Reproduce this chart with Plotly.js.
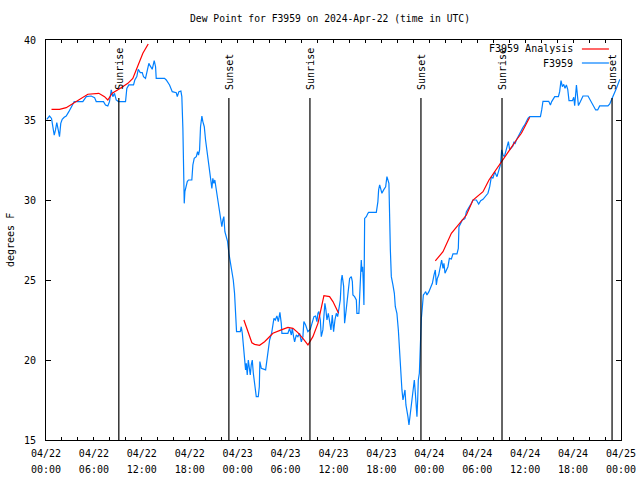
<!DOCTYPE html>
<html>
<head>
<meta charset="utf-8">
<script src="https://cdn.plot.ly/plotly-3.0.1.min.js"></script>
<style>html,body{margin:0;padding:0;background:#fff}#chart{width:640px;height:480px}</style>
</head>
<body>
<div id="chart"></div>
<script>
// Hours since 2024-04-22 00:00 UTC
const obsHours = [
0.10,0.44,0.69,0.85,1.03,1.19,1.35,1.53,1.69,1.85,
2.03,2.28,2.53,2.86,3.19,3.53,4.61,5.04,5.66,6.08,
6.29,7.20,7.45,7.74,7.95,8.17,8.37,8.58,8.79,9.08,
9.96,10.12,10.37,10.96,11.12,11.37,11.55,11.80,12.05,12.21,
12.46,12.63,12.88,13.05,13.30,13.55,13.72,13.80,14.84,15.06,
15.47,15.81,16.31,16.44,16.64,16.89,17.01,17.14,17.22,17.31,
17.39,17.56,17.69,17.85,18.26,18.39,18.56,18.82,18.98,19.10,
19.23,19.35,19.52,19.64,19.82,19.98,20.27,20.48,20.64,20.77,
20.89,21.02,21.14,21.32,21.48,21.61,21.73,21.90,22.02,22.15,
22.27,22.40,22.57,22.74,22.90,23.11,23.27,23.45,23.61,23.74,
23.86,24.33,24.45,24.58,24.74,24.87,24.99,25.08,25.20,25.33,
25.45,25.58,25.70,25.83,25.96,26.08,26.21,26.33,26.58,26.71,
26.78,26.96,27.50,27.66,27.83,28.00,28.25,28.41,28.54,28.71,
28.91,29.09,29.29,29.46,29.54,30.29,30.50,30.72,30.84,31.00,
31.13,31.34,31.54,31.76,31.97,32.17,32.29,32.51,32.67,32.79,
33.10,33.35,33.55,33.76,33.92,34.05,34.17,34.35,34.47,34.67,
34.80,34.92,35.05,35.18,35.35,35.51,35.68,35.85,36.01,36.18,
36.35,36.52,36.68,36.85,36.98,37.08,37.27,37.39,37.58,37.77,
37.89,38.02,38.23,38.36,38.43,38.64,38.86,38.93,39.18,39.27,
39.40,39.48,39.56,39.65,39.73,39.81,39.90,40.11,40.31,40.40,
41.36,41.56,41.65,41.78,41.90,42.06,42.28,42.53,42.69,42.82,
42.94,43.12,43.24,43.44,43.62,43.74,43.94,44.12,44.28,44.41,
44.57,44.70,44.82,44.95,45.07,45.20,45.32,45.45,45.57,45.70,
45.87,46.00,46.12,46.25,46.37,46.45,46.54,46.62,46.75,46.82,
46.91,47.00,47.13,47.25,47.41,47.54,47.70,47.95,48.20,48.38,
48.58,48.75,48.88,49.00,49.17,49.38,49.54,49.71,49.83,49.96,
50.13,50.33,50.51,50.76,50.96,51.46,51.63,51.71,51.92,52.13,
52.34,52.46,52.64,52.84,53.05,53.26,53.46,53.89,54.18,54.43,
54.72,55.05,55.34,55.56,55.64,55.77,55.97,56.18,56.47,56.72,
56.90,57.06,57.23,57.40,57.56,57.72,57.90,58.06,58.27,58.47,
58.60,58.72,58.90,59.10,59.31,59.53,59.73,59.94,60.15,60.35,
60.57,61.91,62.07,62.23,62.95,63.16,63.32,63.70,64.16,64.32,
64.49,64.66,64.83,64.99,65.16,65.33,65.49,65.92,66.08,66.20,
66.42,66.54,66.67,66.92,67.24,67.87,68.17,68.50,68.83,69.08,
69.33,70.37,70.59,70.80,71.09,71.43,71.85];

const obsDewF = [
35.04,35.25,35.10,34.48,34.06,34.38,34.83,34.38,33.96,34.79,
35.04,35.17,35.25,35.52,35.88,36.15,36.15,36.46,36.50,36.40,
36.15,36.15,35.94,35.88,36.15,36.88,36.46,36.67,36.25,36.15,
36.15,36.98,37.19,37.19,37.50,37.71,38.17,37.96,37.96,37.71,
37.60,37.96,38.54,38.38,38.17,38.71,38.33,37.60,37.60,37.50,
37.19,36.77,36.71,36.46,36.77,36.81,36.46,34.48,31.35,29.79,
30.52,30.83,31.15,31.25,31.25,32.19,32.60,32.71,33.02,32.81,
33.13,34.58,35.25,34.90,34.58,33.75,32.71,31.77,31.25,30.73,
31.35,31.04,31.25,30.63,30.21,29.69,29.06,28.65,28.33,28.75,
28.96,28.02,27.60,27.40,26.67,26.04,25.52,25.00,24.17,22.60,
21.77,21.77,22.08,21.67,20.83,20.10,19.38,19.79,19.06,20.00,
19.48,19.06,19.69,20.00,19.17,18.75,18.13,17.71,17.71,18.33,
19.90,19.48,19.38,20.00,20.94,21.25,21.67,22.08,22.60,22.50,
22.75,22.40,22.98,22.29,21.67,21.67,21.98,21.56,21.98,21.46,
21.14,21.56,21.46,21.67,21.14,21.46,22.40,22.19,21.98,21.77,
21.92,22.29,22.71,22.75,22.40,22.92,23.02,22.50,21.46,21.88,
22.81,23.54,23.13,22.50,22.92,22.29,21.88,22.81,21.77,22.50,
22.92,22.71,23.13,23.75,25.00,25.30,24.60,22.30,23.10,24.20,
24.80,25.10,25.21,24.90,24.06,23.96,23.75,22.92,22.92,23.75,
25.42,26.25,25.52,25.83,24.79,23.44,28.85,28.96,29.17,29.23,
29.23,29.90,30.63,30.94,30.73,30.42,30.63,30.83,31.46,31.15,
31.04,26.88,25.21,24.69,24.17,23.33,22.92,21.88,20.42,19.17,
18.13,17.50,17.92,18.13,17.19,16.88,16.46,15.94,16.46,16.88,
17.50,18.33,18.75,17.92,17.19,16.46,17.50,18.75,19.17,20.31,
21.67,22.60,23.33,24.06,24.17,24.27,24.06,24.27,24.58,24.79,
25.31,25.63,24.69,25.10,25.31,25.83,26.25,25.73,26.04,25.42,
25.63,25.83,26.35,26.31,26.63,26.63,26.98,28.33,28.54,28.75,
28.79,28.85,29.27,29.42,29.58,29.79,30.00,30.00,29.75,29.96,
30.04,30.25,30.42,30.83,31.25,31.46,31.35,31.77,31.46,31.98,
32.19,33.13,32.81,32.71,33.02,33.29,33.65,33.13,33.23,33.38,
33.65,33.50,33.75,33.96,34.13,34.38,34.54,34.69,34.90,35.10,
35.21,35.21,35.63,36.17,36.17,35.94,36.15,36.46,36.46,36.77,
37.46,37.08,37.23,36.98,37.19,36.92,36.21,36.21,36.42,35.90,
37.19,36.40,35.90,36.15,36.50,36.50,36.25,35.94,35.63,35.63,
35.88,35.88,36.00,36.25,36.56,36.98,37.54];

const anaHours = [0.69,1.69,2.53,3.36,4.41,5.24,6.61,7.33,7.74,8.29,9.21,10.25,10.87,11.50,12.13,12.80,
  18.0,
  24.78,25.28,25.78,26.12,26.74,27.37,28.41,29.46,30.29,30.92,31.54,32.17,32.80,33.42,34.05,34.80,35.51,35.93,36.64,
  42.0,
  48.75,49.71,50.76,51.80,52.64,53.47,54.72,55.47,56.90,58.06,58.90,59.53,60.57];
const anaDewF = [35.67,35.67,35.77,36.04,36.36,36.61,36.67,36.46,36.25,36.67,36.96,37.29,37.60,38.44,39.17,39.75,
  null,
  22.50,21.77,21.08,20.98,20.92,21.14,21.67,21.88,22.04,21.98,21.71,21.35,20.94,21.46,22.29,24.02,23.96,23.65,22.92,
  null,
  26.19,26.77,27.92,28.54,29.06,30.00,30.52,31.25,32.33,33.13,33.75,34.17,35.17];

const sunHours = [9.12, 22.90, 33.05, 46.95, 57.10, 70.88];
const sunLabels = ['Sunrise','Sunset','Sunrise','Sunset','Sunrise','Sunset'];

const majorHours = [0,6,12,18,24,30,36,42,48,54,60,66,72];
const dateLabels = ['04/22','04/22','04/22','04/22','04/23','04/23','04/23','04/23','04/24','04/24','04/24','04/24','04/25'];
const timeLabels = ['00:00','06:00','12:00','18:00','00:00','06:00','12:00','18:00','00:00','06:00','12:00','18:00','00:00'];
const yTicks = [15,20,25,30,35,40];

const FONT = 'DejaVu Sans Mono, Liberation Mono, monospace';

// all tick positions every 2 hours; date labels at majors
const tickVals = [], tickText = [];
for (let h = 0; h <= 72; h += 2) {
  tickVals.push(h);
  const i = majorHours.indexOf(h);
  tickText.push(i >= 0 ? dateLabels[i] : '');
}

const traces = [
  {x: obsHours, y: obsDewF, type: 'scatter', mode: 'lines', name: 'F3959',
   line: {color: '#0080ff', width: 1.2}, xaxis: 'x', yaxis: 'y', hoverinfo: 'skip'},
  {x: anaHours, y: anaDewF, type: 'scatter', mode: 'lines', name: 'F3959 Analysis',
   line: {color: '#ff0000', width: 1.2}, connectgaps: false, xaxis: 'x2', yaxis: 'y', hoverinfo: 'skip'}
];

const shapes = [], annotations = [];
sunHours.forEach((h, i) => {
  shapes.push({type: 'line', xref: 'x', yref: 'paper', x0: h, x1: h, y0: 0, y1: 0.855,
    line: {color: '#000', width: 1.2}});
  annotations.push({xref: 'x', yref: 'paper', x: h, y: 0.87, text: sunLabels[i], textangle: -90,
    showarrow: false, xanchor: 'center', yanchor: 'bottom', font: {family: FONT, size: 10, color: '#000'}});
});
// legend (text left, line sample right)
annotations.push({xref: 'paper', yref: 'paper', x: 0.92, y: 0.9775, text: 'F3959 Analysis', showarrow: false,
  xanchor: 'right', yanchor: 'middle', font: {family: FONT, size: 10, color: '#000'}});
annotations.push({xref: 'paper', yref: 'paper', x: 0.92, y: 0.9425, text: 'F3959', showarrow: false,
  xanchor: 'right', yanchor: 'middle', font: {family: FONT, size: 10, color: '#000'}});
shapes.push({type: 'line', xref: 'paper', yref: 'paper', x0: 0.932, x1: 0.979, y0: 0.9775, y1: 0.9775,
  line: {color: '#ff0000', width: 1.2}});
shapes.push({type: 'line', xref: 'paper', yref: 'paper', x0: 0.932, x1: 0.979, y0: 0.9425, y1: 0.9425,
  line: {color: '#0080ff', width: 1.2}});
// y-axis title
annotations.push({xref: 'paper', yref: 'paper', x: -0.0626, y: 0.5, text: 'degrees F', textangle: -90,
  showarrow: false, xanchor: 'center', yanchor: 'middle', font: {family: FONT, size: 10, color: '#000'}});

const layout = {
  width: 640, height: 480,
  margin: {l: 46, r: 19, t: 40, b: 40, pad: 0},
  paper_bgcolor: '#fff', plot_bgcolor: '#fff',
  showlegend: false,
  font: {family: FONT, size: 10, color: '#000'},
  title: {text: 'Dew Point for F3959 on 2024-Apr-22 (time in UTC)', x: 330/640, xref: 'container',
    xanchor: 'center', y: 1 - 19/480, yref: 'container', yanchor: 'middle',
    font: {family: FONT, size: 9.7, color: '#000'}},
  xaxis: {range: [0, 72], tickmode: 'array', tickvals: tickVals, ticktext: tickText,
    ticks: 'inside', ticklen: 3, tickwidth: 1, tickcolor: '#000', mirror: 'ticks',
    showline: true, linecolor: '#000', linewidth: 1, showgrid: false, zeroline: false,
    ticklabelstandoff: 4, tickfont: {family: FONT, size: 10, color: '#000'}, fixedrange: true},
  xaxis2: {range: [0, 72], overlaying: 'x', anchor: 'y', side: 'bottom', tickmode: 'array',
    tickvals: majorHours, ticktext: timeLabels, ticks: '', showline: false, showgrid: false, zeroline: false,
    ticklabelstandoff: 22, tickfont: {family: FONT, size: 10, color: '#000'}, fixedrange: true},
  yaxis: {range: [15, 40], tickmode: 'array', tickvals: yTicks, ticktext: yTicks.map(String),
    ticks: 'inside', ticklen: 5, tickwidth: 1, tickcolor: '#000', mirror: 'ticks',
    showline: true, linecolor: '#000', linewidth: 1, showgrid: false, zeroline: false,
    ticklabelstandoff: 7, tickfont: {family: FONT, size: 10, color: '#000'}, fixedrange: true},
  shapes: shapes,
  annotations: annotations
};

Plotly.newPlot('chart', traces, layout, {displayModeBar: false, staticPlot: true});
</script>
</body>
</html>
